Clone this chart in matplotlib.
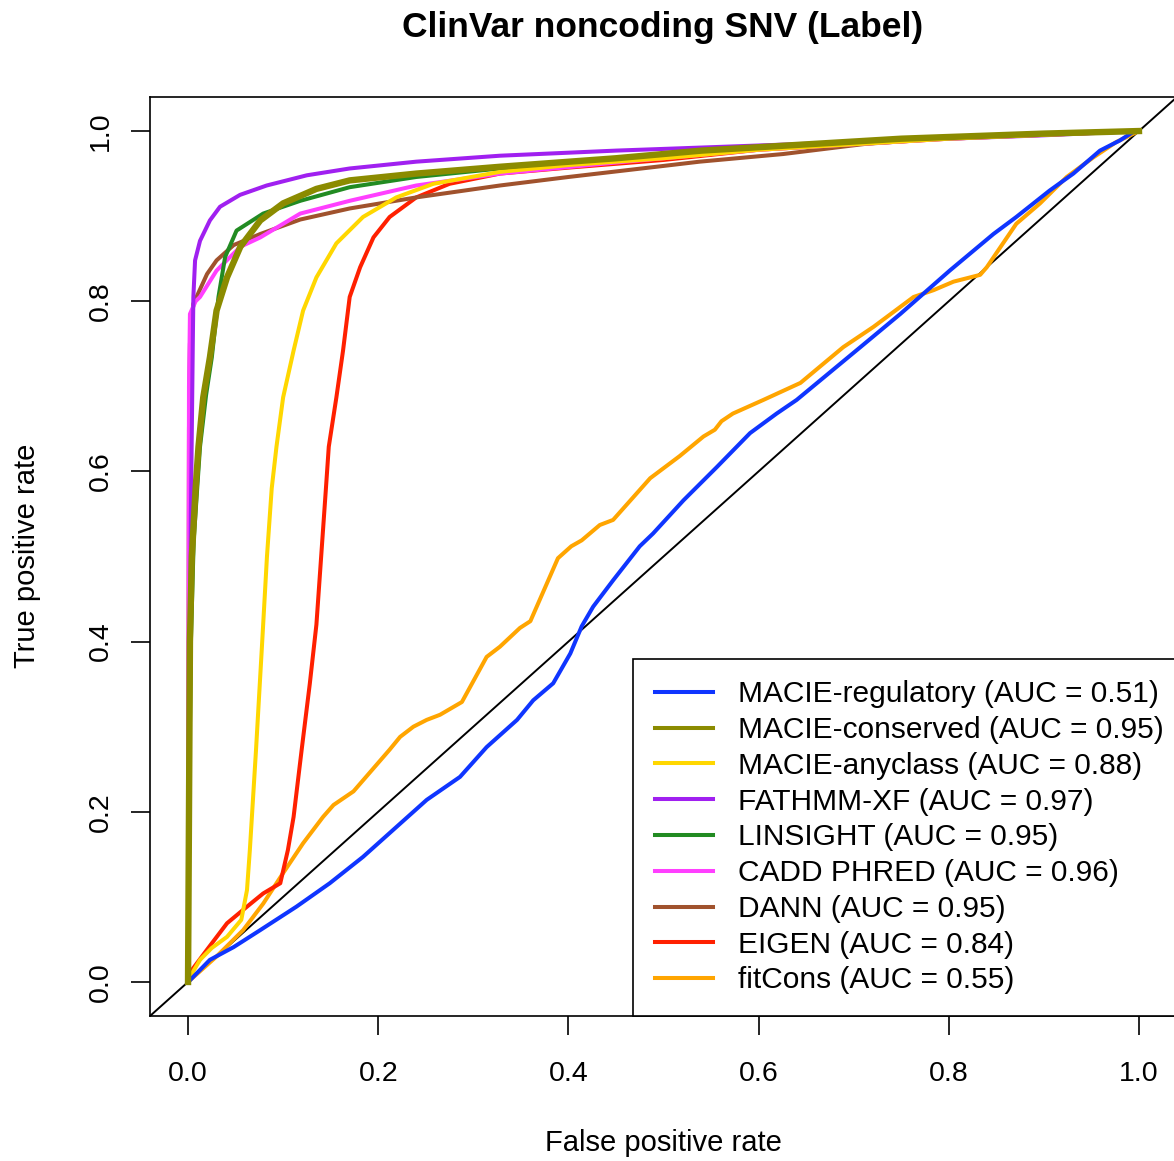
import matplotlib
matplotlib.use("Agg")
import matplotlib.pyplot as plt
from matplotlib.lines import Line2D

plt.rcParams['font.family'] = ['Liberation Sans', 'DejaVu Sans']

title = "ClinVar noncoding SNV (Label)"
xlabel = "False positive rate"
ylabel = "True positive rate"
ticks = [0.0, 0.2, 0.4, 0.6, 0.8, 1.0]
tick_labels = ["0.0", "0.2", "0.4", "0.6", "0.8", "1.0"]

methods = ["MACIE-regulatory", "MACIE-conserved", "MACIE-anyclass", "FATHMM-XF",
           "LINSIGHT", "CADD PHRED", "DANN", "EIGEN", "fitCons"]
aucs = [0.51, 0.95, 0.88, 0.97, 0.95, 0.96, 0.95, 0.84, 0.55]
colors = ["#0f35ff", "#8B8B00", "#FFD700", "#A020F0", "#228B22",
          "#FF3FFF", "#A0522D", "#FF2000", "#FFA500"]

reg_x = [0, 0.002, 0.023, 0.048, 0.076, 0.114, 0.149, 0.184, 0.223, 0.251, 0.286, 0.314,
         0.346, 0.363, 0.384, 0.402, 0.414, 0.426, 0.447, 0.475, 0.489, 0.521, 0.556, 0.591,
         0.619, 0.640, 0.707, 0.749, 0.801, 0.847, 0.871, 0.906, 0.931, 0.959, 0.980, 0.994, 1.0]
reg_y = [0, 0.002, 0.026, 0.041, 0.061, 0.0885, 0.116, 0.147, 0.186, 0.214, 0.241, 0.276,
         0.308, 0.331, 0.351, 0.386, 0.418, 0.441, 0.472, 0.512, 0.527, 0.566, 0.605, 0.645,
         0.668, 0.684, 0.746, 0.785, 0.836, 0.879, 0.899, 0.930, 0.950, 0.977, 0.989, 0.999, 1.0]

cons_x = [0, 0.001, 0.002, 0.004, 0.008, 0.011, 0.016, 0.023, 0.030, 0.041, 0.055, 0.076,
          0.100, 0.135, 0.170, 0.240, 0.328, 0.45, 0.54, 0.75, 0.9, 1.0]
cons_y = [0, 0.2, 0.4, 0.5, 0.58, 0.629, 0.687, 0.734, 0.789, 0.828, 0.864, 0.895,
          0.915, 0.932, 0.942, 0.950, 0.958, 0.968, 0.977, 0.991, 0.997, 1.0]

any_x = [0, 0.002, 0.0126, 0.025, 0.041, 0.056, 0.062, 0.065, 0.0715, 0.078, 0.083, 0.088,
         0.093, 0.100, 0.111, 0.121, 0.135, 0.156, 0.184, 0.219, 0.258, 0.328, 0.4, 0.5,
         0.6, 0.8, 1.0]
any_y = [0, 0.006, 0.026, 0.04, 0.053, 0.073, 0.108, 0.155, 0.273, 0.4, 0.5, 0.58,
         0.629, 0.687, 0.742, 0.789, 0.828, 0.868, 0.899, 0.922, 0.938, 0.952, 0.96, 0.968,
         0.978, 0.991, 1.0]

fathmm_x = [0, 0.003, 0.005, 0.0056, 0.0074, 0.0126, 0.023, 0.0336, 0.0547, 0.0827, 0.125,
            0.170, 0.240, 0.328, 0.45, 0.6, 0.8, 0.9, 1.0]
fathmm_y = [0, 0.55, 0.75, 0.805, 0.848, 0.871, 0.895, 0.911, 0.925, 0.936, 0.948,
            0.956, 0.964, 0.971, 0.977, 0.983, 0.991, 0.995, 1.0]

lins_x = [0, 0.001, 0.003, 0.006, 0.0126, 0.019, 0.025, 0.032, 0.039, 0.051, 0.065, 0.079,
          0.118, 0.170, 0.240, 0.328, 0.45, 0.6, 0.8, 1.0]
lins_y = [0, 0.2, 0.4, 0.52, 0.629, 0.69, 0.734, 0.805, 0.852, 0.883, 0.893, 0.903,
          0.918, 0.934, 0.946, 0.956, 0.966, 0.980, 0.992, 1.0]

cadd_x = [0, 0.0005, 0.001, 0.002, 0.008, 0.0126, 0.030, 0.055, 0.076, 0.118, 0.170, 0.240,
          0.328, 0.45, 0.6, 0.8, 1.0]
cadd_y = [0, 0.4, 0.7, 0.785, 0.80, 0.805, 0.836, 0.864, 0.875, 0.903, 0.918, 0.936,
          0.950, 0.963, 0.978, 0.991, 1.0]

dann_x = [0, 0.0005, 0.001, 0.002, 0.0056, 0.011, 0.020, 0.030, 0.048, 0.076, 0.118, 0.170,
          0.240, 0.328, 0.4, 0.5, 0.538, 0.626, 0.713, 0.819, 0.924, 1.0]
dann_y = [0, 0.4, 0.65, 0.75, 0.797, 0.81, 0.832, 0.848, 0.866, 0.879, 0.896, 0.909,
          0.922, 0.936, 0.946, 0.959, 0.964, 0.973, 0.985, 0.993, 0.998, 1.0]

eigen_x = [0, 0.004, 0.020, 0.041, 0.062, 0.079, 0.097, 0.105, 0.111, 0.1195, 0.128, 0.135,
           0.140, 0.145, 0.148, 0.156, 0.163, 0.170, 0.181, 0.195, 0.212, 0.240, 0.275, 0.328,
           0.4, 0.5, 0.6, 0.8, 1.0]
eigen_y = [0, 0.014, 0.038, 0.069, 0.0885, 0.104, 0.116, 0.155, 0.194, 0.273, 0.35, 0.42,
           0.5, 0.58, 0.629, 0.687, 0.742, 0.805, 0.840, 0.875, 0.899, 0.922, 0.938, 0.950,
           0.957, 0.966, 0.978, 0.991, 1.0]

fit_x = [0, 0.002, 0.030, 0.058, 0.079, 0.100, 0.121, 0.142, 0.153, 0.174, 0.212, 0.223,
         0.237, 0.251, 0.265, 0.288, 0.314, 0.328, 0.349, 0.360, 0.389, 0.403, 0.414, 0.433,
         0.447, 0.486, 0.517, 0.542, 0.554, 0.561, 0.573, 0.605, 0.644, 0.689, 0.721, 0.763,
         0.784, 0.805, 0.833, 0.840, 0.871, 0.896, 0.924, 0.952, 0.976, 1.0]
fit_y = [0, 0.002, 0.030, 0.061, 0.092, 0.128, 0.163, 0.194, 0.208, 0.224, 0.273, 0.288,
         0.300, 0.308, 0.314, 0.329, 0.382, 0.394, 0.416, 0.424, 0.498, 0.512, 0.519, 0.537,
         0.543, 0.592, 0.618, 0.641, 0.649, 0.659, 0.668, 0.684, 0.704, 0.746, 0.770, 0.805,
         0.813, 0.823, 0.831, 0.840, 0.891, 0.915, 0.946, 0.969, 0.987, 1.0]

curves_x = [reg_x, cons_x, any_x, fathmm_x, lins_x, cadd_x, dann_x, eigen_x, fit_x]
curves_y = [reg_y, cons_y, any_y, fathmm_y, lins_y, cadd_y, dann_y, eigen_y, fit_y]
line_w = [2.9, 4.6, 2.9, 2.9, 2.9, 2.9, 2.9, 2.9, 2.9]
draw_order = [8, 7, 6, 5, 4, 3, 2, 0, 1]

W, H = 1174, 1161
fig = plt.figure(figsize=(W / 100, H / 100), dpi=100)
ax = fig.add_axes([150 / W, (H - 1016) / H, 1027 / W, 919 / H])
ax.set_xlim(-0.04, 1.04)
ax.set_ylim(-0.04, 1.04)

for i in draw_order:
    ax.plot(curves_x[i], curves_y[i], color=colors[i], lw=line_w[i],
            solid_joinstyle='round', zorder=3 + draw_order.index(i))
ax.axline((0, 0), slope=1, color='black', lw=1.4, zorder=2)

for sp in ax.spines.values():
    sp.set_linewidth(1.2)
    sp.set_color('black')

ax.set_xticks(ticks)
ax.set_xticklabels(tick_labels)
ax.set_yticks(ticks)
ax.set_yticklabels(tick_labels, rotation=90, va='center')
ax.tick_params(axis='both', direction='out', length=14, width=1.2, labelsize=20.5)
ax.tick_params(axis='x', pad=18.5)
ax.tick_params(axis='y', pad=12)

fig.text(663 / W, 1 - 27 / H, title, ha='center', va='center', fontsize=25.5, fontweight='bold')
fig.text(663 / W, 1 - 1143 / H, xlabel, ha='center', va='center', fontsize=21)
fig.text(27 / W, 1 - 556 / H, ylabel, ha='center', va='center', fontsize=21, rotation=90)

handles = [Line2D([0], [0], color=c, lw=2.9) for c in colors]
labels = [f"{m} (AUC = {a:.2f})" for m, a in zip(methods, aucs)]
leg = ax.legend(handles, labels, loc='lower left', bbox_to_anchor=((633 - 150) / 1027, 0.0),
                borderaxespad=0, fontsize=21.5, frameon=True, fancybox=False,
                edgecolor='black', framealpha=1, handlelength=1.95, handletextpad=0.86,
                labelspacing=0.26, borderpad=0.72)
leg.get_frame().set_linewidth(1.2)
leg.set_zorder(20)

fig.savefig("out.png", dpi=100)
